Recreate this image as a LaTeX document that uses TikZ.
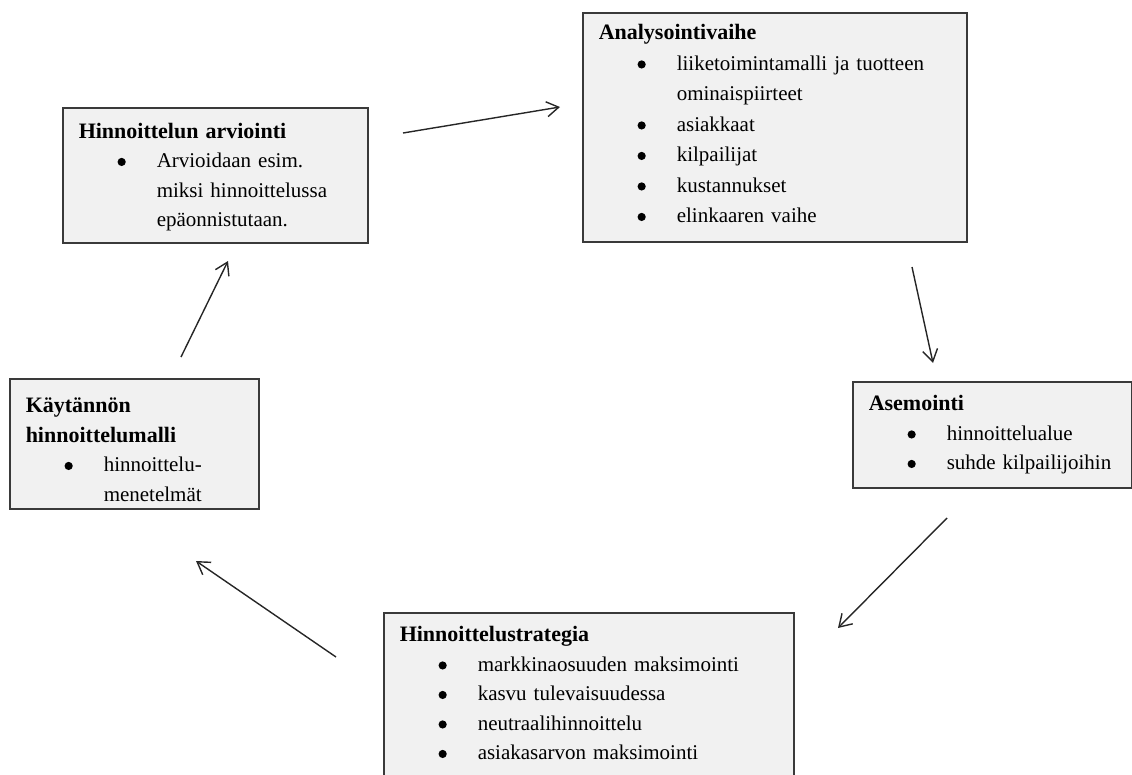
\documentclass[tikz,border=0pt]{standalone}
\usepackage{fontspec}
\setmainfont{Liberation Serif}
\usetikzlibrary{arrows.meta}
\definecolor{boxfill}{HTML}{F1F1F1}
\definecolor{boxline}{HTML}{3A3A3A}
\newcommand{\bdot}{\tikz[baseline=0pt]\fill[black] (4.1pt,5.8pt) circle (4.1pt);}
\newcommand{\bitem}{\par\hangindent=78pt\relax\hangafter=0\relax\noindent\llap{\bdot\hspace{31pt}}}
\newcommand{\ttl}[1]{{\fontsize{22pt}{30pt}\selectfont\bfseries #1}}
\newcommand{\boxsetup}{\setlength{\parskip}{0pt}\raggedright}
\tikzset{
  box/.style={draw=boxline, fill=boxfill, line width=1.5pt, inner xsep=16pt, inner ysep=0pt,
    anchor=north west,
    font=\fontsize{21pt}{29.5pt}\selectfont, execute at begin node=\boxsetup},
  flow/.style={draw=black!85, line width=1.4pt, -{Straight Barb[length=12pt,width=15pt,line width=1.4pt]}}
}
\begin{document}
\begin{tikzpicture}[x=1pt,y=-1pt]
\useasboundingbox (0,0) rectangle (1132,774);
\clip (0,0) rectangle (1132,774);
\node[box, text width=273pt, text height=30.5pt, text depth=104.5pt] (arv) at (62,107)
  {\ttl{Hinnoittelun arviointi}\bitem Arvioidaan esim.\newline miksi hinnoittelussa\newline epäonnistutaan.\par};
\node[box, text width=352pt, text height=27pt, text depth=202pt,
      font=\fontsize{21pt}{30.5pt}\selectfont] (ana) at (582,12)
  {\ttl{Analysointivaihe}\bitem liiketoimintamalli ja tuotteen\newline ominaispiirteet\bitem asiakkaat\bitem kilpailijat\bitem kustannukset\bitem elinkaaren vaihe\par};
\node[box, text width=247pt, text height=29pt, text depth=77pt] (ase) at (852,381)
  {\ttl{Asemointi}\bitem hinnoittelualue\bitem \mbox{suhde kilpailijoihin}\par};
\node[box, text width=378pt, text height=29pt, text depth=149pt] (str) at (383,612)
  {\ttl{Hinnoittelustrategia}\bitem markkinaosuuden maksimointi\bitem kasvu tulevaisuudessa\bitem neutraalihinnoittelu\bitem asiakasarvon maksimointi\par};
\node[box, text width=217pt, text height=34pt, text depth=96pt] (kay) at (9,378)
  {\ttl{Käytännön\newline hinnoittelumalli}\bitem hinnoittelu-\newline menetelmät\par};
\coordinate (a1s) at (403,133); \coordinate (a1e) at (560,107);
\coordinate (a2s) at (912,267); \coordinate (a2e) at (933,363);
\coordinate (a3s) at (947,518); \coordinate (a3e) at (838,628);
\coordinate (a4s) at (336,657); \coordinate (a4e) at (196,561);
\coordinate (a5s) at (181,357); \coordinate (a5e) at (228,261);
\draw[flow] (a1s) -- (a1e);
\draw[flow] (a2s) -- (a2e);
\draw[flow] (a3s) -- (a3e);
\draw[flow] (a4s) -- (a4e);
\draw[flow] (a5s) -- (a5e);
\end{tikzpicture}
\end{document}
